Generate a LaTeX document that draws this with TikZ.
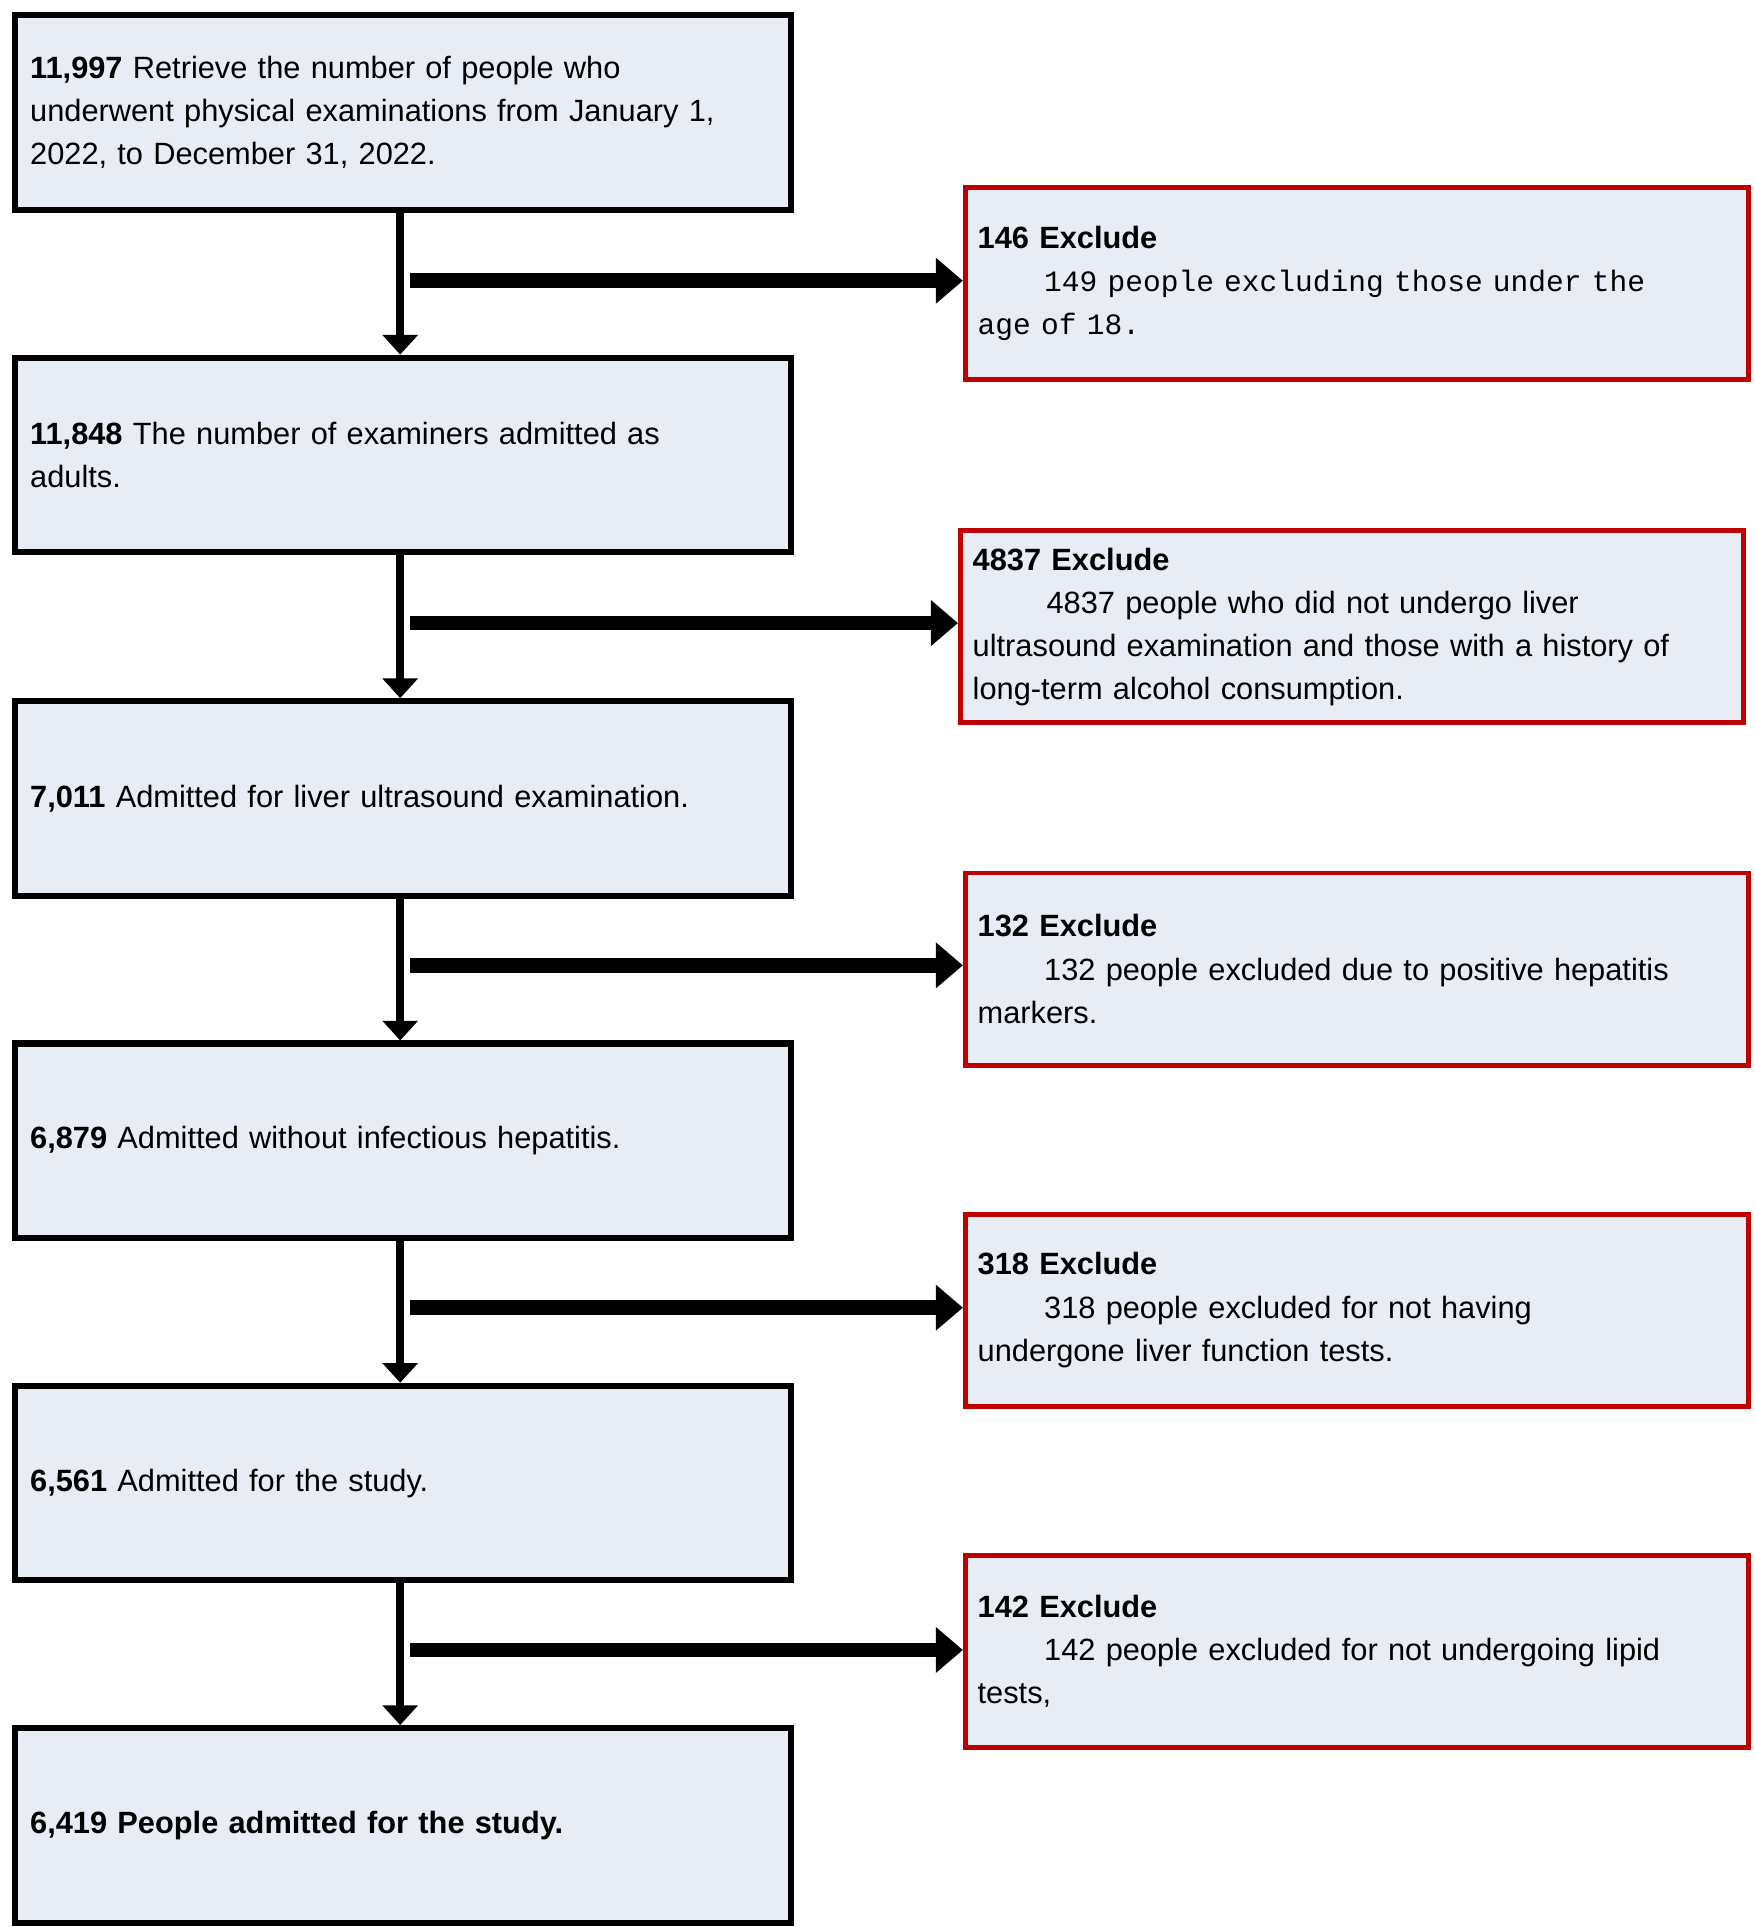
\documentclass[tikz,border=0pt]{standalone}
\usepackage{fontspec}
\setmainfont{Liberation Sans}
\newfontfamily\monof{Liberation Mono}
\usetikzlibrary{arrows.meta}
\definecolor{boxfill}{HTML}{E8ECF5}
\definecolor{exred}{HTML}{C00000}
\begin{document}
\begin{tikzpicture}[x=0.5pt,y=-0.5pt,
  lbox/.style={draw=black,line width=2.5pt,fill=boxfill,minimum width=315pt,minimum height=79pt,
    text width=303pt,align=left,inner xsep=6pt,anchor=north west,font=\fontsize{12.5}{17.5}\selectfont},
  rbox/.style={draw=exred,line width=2pt,fill=boxfill,minimum width=318pt,minimum height=78pt,
    text width=308pt,align=left,inner xsep=5pt,anchor=north west,font=\fontsize{12.5}{17.5}\selectfont},
  varr/.style={line width=3pt,-{Triangle[length=8pt,width=14pt]}},
  harr/.style={line width=6pt,-{Triangle[length=11pt,width=18pt]}}]
\useasboundingbox (0,0) rectangle (1425,1565);
\fill[white] (0,0) rectangle (1425,1565);
\node[lbox] (l1) at (10,10) {\textbf{11,997} Retrieve the number of people who\\underwent physical examinations from January 1,\\2022, to December 31, 2022.};
\node[lbox] (l2) at (10,288) {\textbf{11,848} The number of examiners admitted as\\adults.};
\node[lbox] (l3) at (10,567) {\textbf{7,011} Admitted for liver ultrasound examination.};
\node[lbox] (l4) at (10,845) {\textbf{6,879} Admitted without infectious hepatitis.};
\node[lbox] (l5) at (10,1123) {\textbf{6,561} Admitted for the study.};
\node[lbox] (l6) at (10,1401) {\textbf{6,419 People admitted for the study.}};
\node[rbox] (r1) at (782,150) {\textbf{146 Exclude}\\{\monof\fontsize{12}{17.5}\selectfont\hspace*{27pt}149 people excluding those under the\\age of 18.}};
\node[rbox] (r2) at (778,429) {\textbf{4837 Exclude}\\\hspace*{30pt}4837 people who did not undergo liver\\ultrasound examination and those with a history of\\long-term alcohol consumption.};
\node[rbox] (r3) at (782,707) {\textbf{132 Exclude}\\\hspace*{27pt}132 people excluded due to positive hepatitis\\markers.};
\node[rbox] (r4) at (782,984) {\textbf{318 Exclude}\\\hspace*{27pt}318 people excluded for not having\\undergone liver function tests.};
\node[rbox] (r5) at (782,1261) {\textbf{142 Exclude}\\\hspace*{27pt}142 people excluded for not undergoing lipid\\tests,};
\foreach \a/\b in {l1/l2,l2/l3,l3/l4,l4/l5,l5/l6} {
  \draw[varr] (\a.south -| 325,0) -- (\b.north -| 325,0);
}
\foreach \r/\y in {r1/228,r2/506,r3/784,r4/1062,r5/1340} {
  \coordinate (c\r) at (333,\y);
  \draw[harr] (c\r) -- (\r.west |- c\r);
}
\end{tikzpicture}
\end{document}
